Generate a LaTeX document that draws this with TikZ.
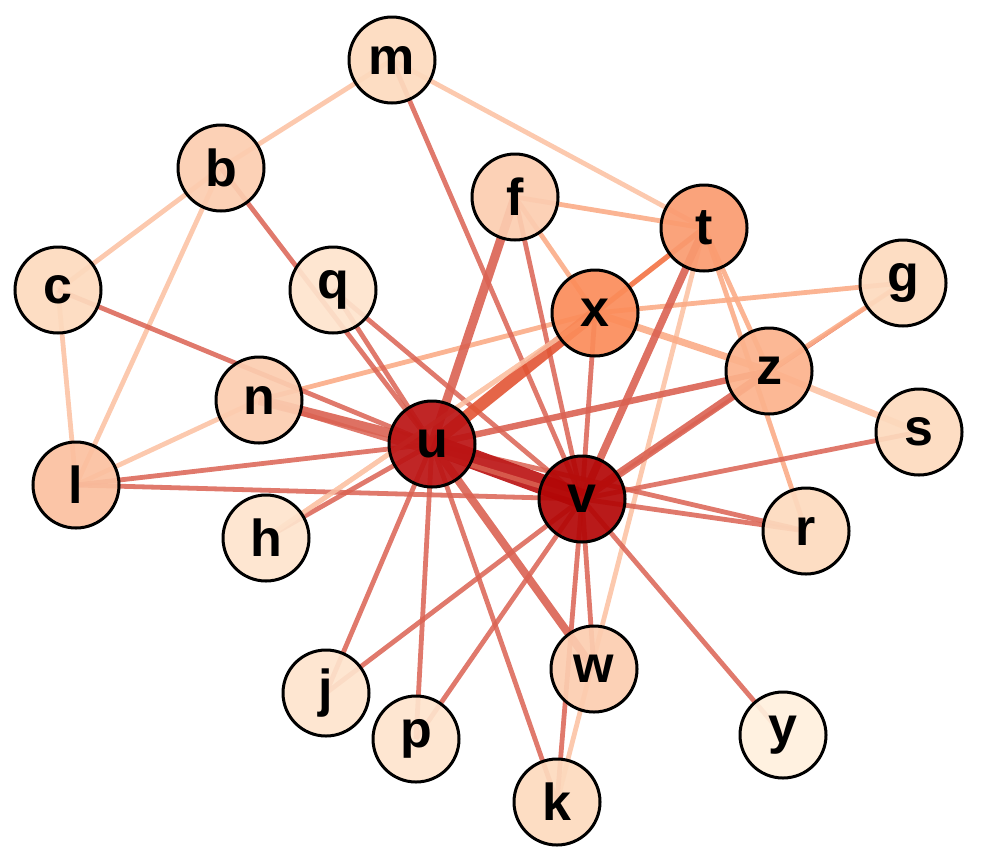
\documentclass[tikz,border=0pt]{standalone}
\usepackage{fontspec}
\setmainfont{Liberation Sans}
\pgfdeclarelayer{bg}
\pgfsetlayers{bg,main}
\definecolor{cU}{RGB}{187,20,20}
\definecolor{cV}{RGB}{179,6,6}
\definecolor{cX}{RGB}{251,140,90}
\definecolor{cT}{RGB}{250,155,112}
\definecolor{cZ}{RGB}{252,178,140}
\definecolor{cL}{RGB}{251,192,160}
\definecolor{cB}{RGB}{252,205,176}
\definecolor{cM}{RGB}{253,218,190}
\definecolor{cQ}{RGB}{254,228,205}
\definecolor{cY}{RGB}{255,240,221}
\definecolor{eRed}{RGB}{218,98,82}
\definecolor{eDark}{RGB}{190,28,28}
\definecolor{eOR}{RGB}{226,84,52}
\definecolor{eLite}{RGB}{252,198,170}
\definecolor{ePeach}{RGB}{251,172,135}
\definecolor{eOrng}{RGB}{244,128,86}
\begin{document}
\begin{tikzpicture}[x=0.5pt,y=-0.5pt,
  vtx/.style={circle,draw=black,line width=1.5pt,minimum size=43pt,inner sep=0pt,
    fill opacity=0.92,text opacity=1,font=\fontsize{26}{26}\selectfont\bfseries},
  lite/.style={draw=eLite,line width=2.4pt,opacity=0.95},
  peach/.style={draw=ePeach,line width=2.4pt,opacity=0.9},
  red/.style={draw=eRed,line width=2.4pt,opacity=0.85},
  redthick/.style={draw=eRed,line width=#1,opacity=0.9},
]
\useasboundingbox (0,0) rectangle (983,857);
\node[vtx,fill=cM] (m) at (392,60) {m};
\node[vtx,fill=cB] (b) at (221,168) {b};
\node[vtx,fill=cM] (c) at (58,290) {c};
\node[vtx,fill=cQ] (q) at (333,290) {q};
\node[vtx,fill=cB] (f) at (515,197) {f};
\node[vtx,fill=cT] (t) at (704,228) {t};
\node[vtx,fill=cM] (g) at (903,283) {g};
\node[vtx,fill=cX] (x) at (595,313) {x};
\node[vtx,fill=cZ] (z) at (769,371) {z};
\node[vtx,fill=cM] (s) at (919,432) {s};
\node[vtx,fill=cB] (n) at (259,400) {n};
\node[vtx,fill=cU] (u) at (432,444) {u};
\node[vtx,fill=cV] (v) at (582,499) {v};
\node[vtx,fill=cL] (l) at (76,485) {l};
\node[vtx,fill=cQ] (h) at (266,538) {h};
\node[vtx,fill=cM] (r) at (806,531) {r};
\node[vtx,fill=cQ] (j) at (326,693) {j};
\node[vtx,fill=cB] (w) at (594,669) {w};
\node[vtx,fill=cQ] (p) at (416,739) {p};
\node[vtx,fill=cY] (y) at (783,735) {y};
\node[vtx,fill=cM] (k) at (557,802) {k};
\begin{pgfonlayer}{bg}
\draw[red,line width=1.6pt] (v.center) -- (g.center);
% light edges
\foreach \a/\b in {m/b,m/t,b/c,b/l,c/l,l/n,h/x,t/k}
  \draw[lite] (\a.center) -- (\b.center);
\foreach \a/\b in {f/t,f/x,n/x,x/g,t/z,t/r,z/g}
  \draw[peach] (\a.center) -- (\b.center);
\draw[peach,line width=3.5pt] (x.center) -- (z.center);
\draw[lite,line width=3.2pt] (z.center) -- (s.center);
% red thin edges
\foreach \a/\b in {b/u,c/u,m/v,q/u,q/v,l/u,l/v,h/u,u/j,u/p,u/k,u/r,f/v,x/v,s/v,v/r,v/y,v/j,v/p,v/w,v/k}
  \draw[red] (\a.center) -- (\b.center);
% thicker edges
\draw[redthick=3.2pt] (z.center) -- (u.center);
\draw[redthick=5pt] (n.center) -- (u.center);
\draw[redthick=4pt] (u.center) -- (w.center);
\draw[redthick=4.5pt] (f.center) -- (u.center);
\draw[redthick=3.8pt] (t.center) -- (v.center);
\draw[redthick=4.2pt] (z.center) -- (v.center);
\draw[draw=eOrng,line width=2.6pt] (t.center) -- (x.center);
\draw[draw=eOR,line width=6pt,opacity=0.9] (x.center) -- (u.center);
\draw[draw=eDark,line width=10pt,opacity=0.95] (u.center) -- (v.center);
\draw[red] (n.center) -- (v.center);
\draw[lite,opacity=0.8] (h.center) -- (x.center);
\end{pgfonlayer}
\end{tikzpicture}
\end{document}
